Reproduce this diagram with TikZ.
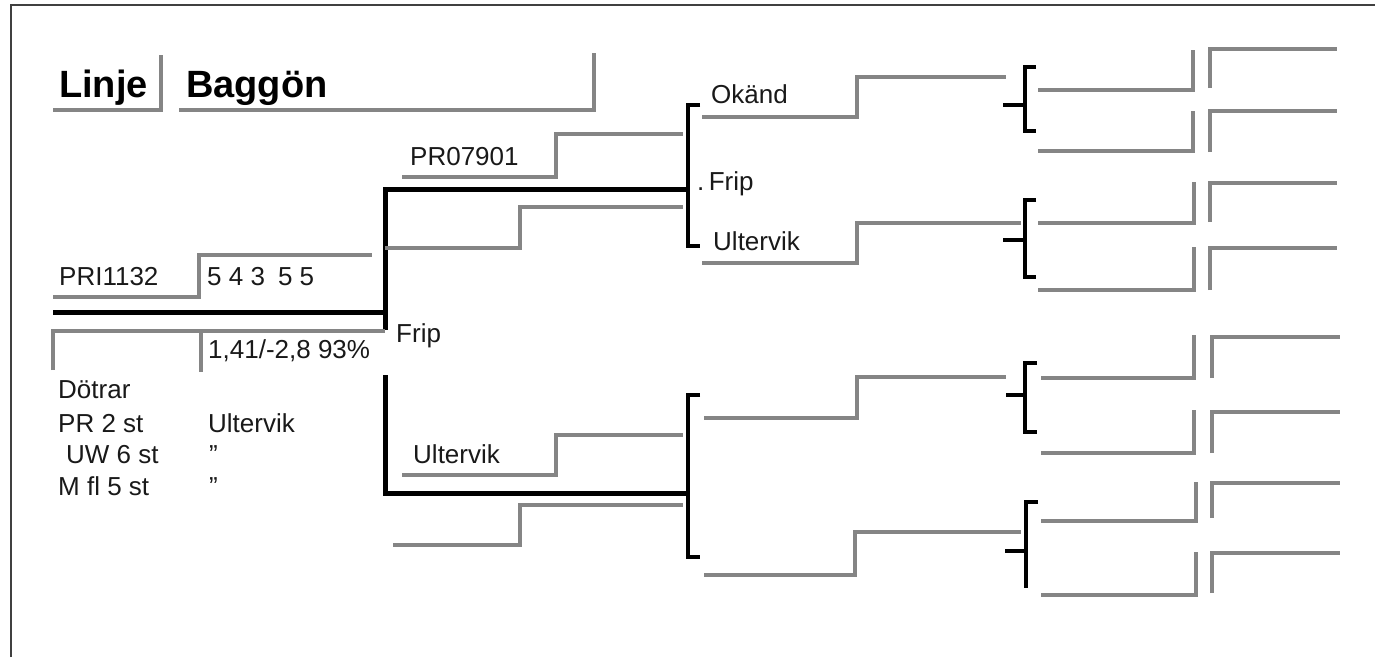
\documentclass[tikz,border=0pt]{standalone}
\usepackage{fontspec}
\setmainfont{Liberation Sans}
\begin{document}
\begin{tikzpicture}[x=1pt,y=-1pt,
  frame/.style={draw=black!75, line width=1.5pt},
  gline/.style={draw=black!48, line width=3.5pt, line join=miter},
  bline/.style={draw=black, line width=5pt, line join=miter},
  brk/.style={draw=black, line width=4pt, line join=miter},
  lbl/.style={anchor=base west, inner sep=0pt, text=black!90, font=\fontsize{26}{28}\selectfont},
  ttl/.style={anchor=base west, inner sep=0pt, font=\fontsize{38}{40}\selectfont\bfseries}]
\useasboundingbox (0,0) rectangle (1375,657);
% frame
\draw[frame] (11,657) -- (11,5) -- (1375,5);

% title
\node[ttl] (linje) at (59,97) {Linje};
\draw[gline] (53,110) -- (161,110) -- (161,55);
\node[ttl] (baggon) at (186,97) {Baggön};
\draw[gline] (179,110) -- (594,110) -- (594,53);

% proband
\node[lbl] (pri) at (59,285) {PRI1132};
\draw[gline] (53,297) -- (199,297) -- (199,255) -- (372,255);
\node[lbl] (score) at (207,285) {5 4 3\enspace 5 5};
\coordinate (j0) at (385,312);
\draw[bline] (53,312) -- (j0) -- (385,330);
\draw[gline] (53,370) -- (53,331) -- (385,331);
\draw[gline] (201,331) -- (201,372);
\node[lbl] (idx) at (208,358) {1,41/-2,8 93\%};
\node[lbl] (frip0) at (396,342) {Frip};

\node[lbl] (dot) at (58,398) {Dötrar};
\node[lbl] (pr2) at (58,432) {PR 2 st};
\node[lbl] (ult0) at (208,432) {Ultervik};
\node[lbl] (uw6) at (66,463) {UW 6 st};
\node[lbl] (d1) at (209,463) {"};
\node[lbl] (mfl) at (58,495) {M fl 5 st};
\node[lbl] (d2) at (209,495) {"};

% sire branch
\coordinate (s) at (385,189);
\coordinate (b1) at (688,189);
\draw[bline] (j0) -- (s) -- (b1);
\node[lbl] (pr079) at (410,165) {PR07901};
\draw[gline] (402,177) -- (556,177) -- (556,134) -- (683,134);
\draw[gline] (385,248) -- (520,248) -- (520,207) -- (683,207);
\draw[brk] (700,105) -- (688,105) -- (688,246) -- (700,246);

\node[lbl] (okand) at (711,103) {Okänd};
\draw[gline] (702,117) -- (857,117) -- (857,77) -- (1006,77);
\node[lbl] (frip1) at (697,190) {.\,Frip};
\node[lbl] (ult1) at (713,250) {Ultervik};
\draw[gline] (702,263) -- (857,263) -- (857,223) -- (1021,223);

% bracket 2
\draw[brk] (1036,67) -- (1025,67) -- (1025,131) -- (1036,131);
\draw[brk] (1003,105) -- (1025,105);
\draw[gline] (1038,90) -- (1193,90) -- (1193,50);
\draw[gline] (1038,151) -- (1193,151) -- (1193,111);
\draw[gline] (1210,88) -- (1210,49) -- (1337,49);
\draw[gline] (1210,152) -- (1210,111) -- (1337,111);

% bracket 3
\draw[brk] (1036,200) -- (1025,200) -- (1025,277) -- (1036,277);
\draw[brk] (1003,240) -- (1025,240);
\draw[gline] (1038,223) -- (1194,223) -- (1194,182);
\draw[gline] (1038,290) -- (1194,290) -- (1194,247);
\draw[gline] (1210,222) -- (1210,183) -- (1337,183);
\draw[gline] (1210,290) -- (1210,248) -- (1337,248);

% dam branch
\coordinate (d) at (385,375);
\coordinate (b2) at (688,493);
\draw[bline] (d) -- (385,493) -- (b2);
\node[lbl] (ult2) at (413,463) {Ultervik};
\draw[gline] (402,475) -- (556,475) -- (556,435) -- (683,435);
\draw[gline] (393,545) -- (520,545) -- (520,505) -- (683,505);
\draw[brk] (700,395) -- (688,395) -- (688,557) -- (700,557);

\draw[gline] (704,418) -- (857,418) -- (857,377) -- (1006,377);
\draw[gline] (704,575) -- (855,575) -- (855,532) -- (1021,532);

% bracket 4
\draw[brk] (1037,363) -- (1025,363) -- (1025,432) -- (1037,432);
\draw[brk] (1006,395) -- (1025,395);
\draw[gline] (1041,378) -- (1194,378) -- (1194,335);
\draw[gline] (1041,453) -- (1194,453) -- (1194,410);
\draw[gline] (1212,378) -- (1212,337) -- (1340,337);
\draw[gline] (1212,453) -- (1212,412) -- (1340,412);

% bracket 5
\draw[brk] (1038,502) -- (1026,502) -- (1026,588);
\draw[brk] (1005,551) -- (1026,551);
\draw[gline] (1041,521) -- (1196,521) -- (1196,482);
\draw[gline] (1041,595) -- (1196,595) -- (1196,552);
\draw[gline] (1212,518) -- (1212,483) -- (1340,483);
\draw[gline] (1212,593) -- (1212,553) -- (1340,553);
\end{tikzpicture}
\end{document}
